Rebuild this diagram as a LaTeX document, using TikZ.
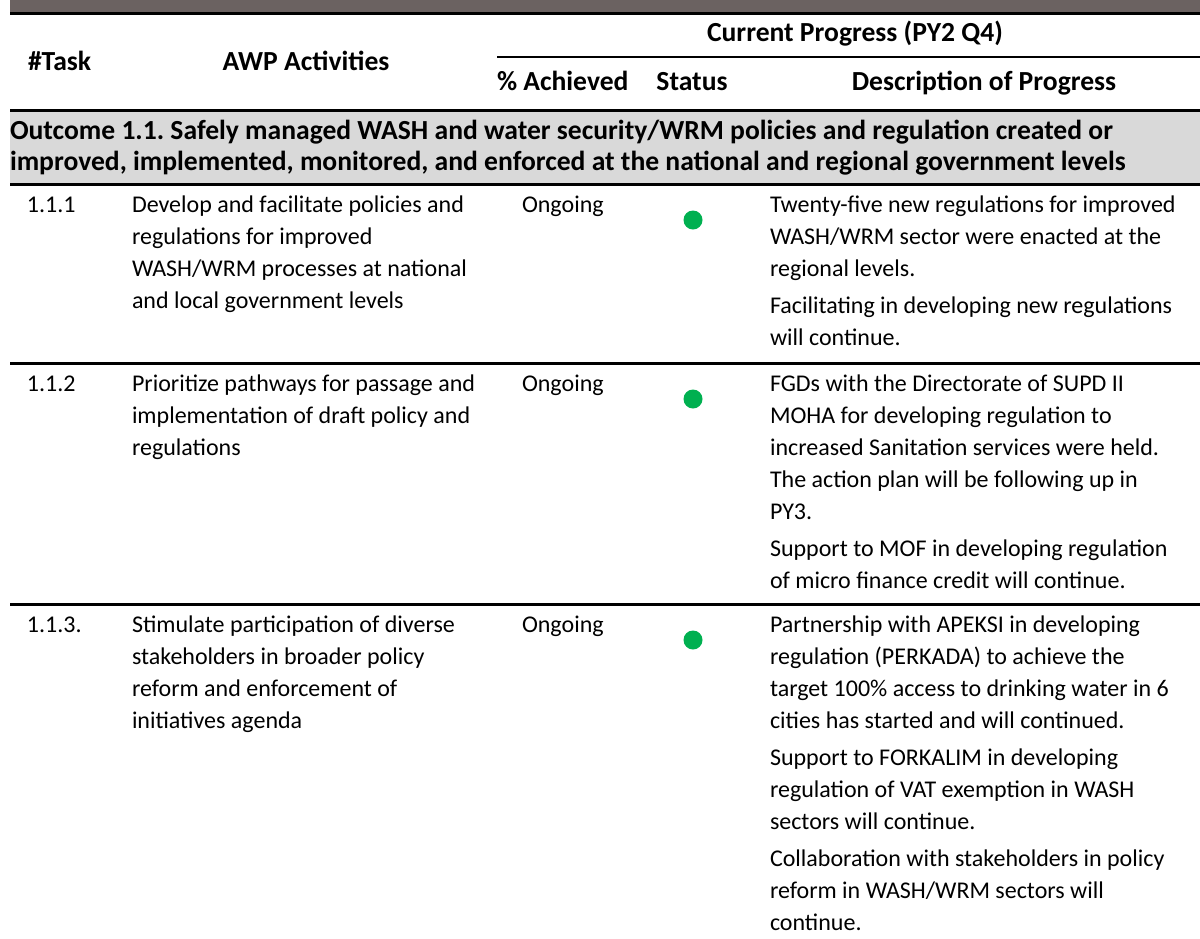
\documentclass[tikz,border=0pt]{standalone}
\usepackage{fontspec}
\setmainfont{Carlito}
\usepackage{tikz}
\frenchspacing

\definecolor{barbrown}{HTML}{6B6261}
\definecolor{outcomegray}{HTML}{D9D9D9}
\definecolor{statusgreen}{HTML}{00B050}

\newcommand{\bodysize}{\fontsize{24}{32}\selectfont}
\newcommand{\headsize}{\fontsize{27.6}{31}\selectfont\bfseries}

\tikzstyle{rule} = [line width=3pt]
\tikzstyle{thinrule} = [line width=2pt]
\tikzstyle{cell} = [anchor=north west, inner sep=0pt, outer sep=0pt, align=left, font=\bodysize]
\tikzstyle{headcell} = [anchor=base, inner sep=0pt, outer sep=0pt, font=\headsize]
\tikzstyle{statusdot} = [circle, fill=statusgreen, minimum size=19pt, inner sep=0pt]

\newcommand{\taskrow}[5]{
	\draw[rule] (10,#2) -- (1200,#2);
	\node(#1num) at (27,#2+6.5) [cell] {\strut #3};
	\node(#1act) at (132,#2+6.5) [cell] {\strut #4};
	\node(#1pct) at (522,#2+6.5) [cell] {\strut Ongoing};
	\node(#1dot) at (693,#2+36) [statusdot] {};
	\node(#1desc) at (770,#2+6.5) [cell] {\strut #5};
}

\begin{document}
\begin{tikzpicture}[x=1pt,y=-1pt]
	\useasboundingbox (0,0) rectangle (1200,938);

	% header
	\fill[barbrown] (10,0) rectangle (1200,12);
	\draw[rule] (10,13) -- (1200,13);
	\node(curprog) at (855,41) [headcell] {Current Progress (PY2 Q4)};
	\draw[thinrule] (497,57) -- (1200,57);
	\node(task) at (28,70) [headcell, anchor=base west] {\#Task};
	\node(awp) at (306,70) [headcell] {AWP Activities};
	\node(achieved) at (497,90) [headcell, anchor=base west] {\% Achieved};
	\node(status) at (692,90) [headcell] {Status};
	\node(descr) at (984,90) [headcell] {Description of Progress};

	% outcome band
	\fill[outcomegray] (10,110) rectangle (1200,184);
	\draw[rule] (10,110) -- (1200,110);
	\node(outcome) at (10,118) [headcell, anchor=north west, align=left] {\strut Outcome 1.1. Safely managed WASH and water security/WRM policies and regulation created or\\improved, implemented, monitored, and enforced at the national and regional government levels};

	% tasks
	\taskrow{one}{184}{1.1.1}{Develop and facilitate policies and\\regulations for improved\\WASH/WRM processes at national\\and local government levels}{Twenty-five new regulations for improved\\WASH/WRM sector were enacted at the\\regional levels.\\[5pt]Facilitating in developing new regulations\\will continue.};
	\taskrow{two}{363}{1.1.2}{Prioritize pathways for passage and\\implementation of draft policy and\\regulations}{FGDs with the Directorate of SUPD II\\MOHA for developing regulation to\\increased Sanitation services were held.\\The action plan will be following up in\\PY3.\\[5pt]Support to MOF in developing regulation\\of micro finance credit will continue.};
	\taskrow{three}{604}{1.1.3.}{Stimulate participation of diverse\\stakeholders in broader policy\\reform and enforcement of\\initiatives agenda}{Partnership with APEKSI in developing\\regulation (PERKADA) to achieve the\\target 100\% access to drinking water in 6\\cities has started and will continued.\\[5pt]Support to FORKALIM in developing\\regulation of VAT exemption in WASH\\sectors will continue.\\[5pt]Collaboration with stakeholders in policy\\reform in WASH/WRM sectors will\\continue.};
\end{tikzpicture}
\end{document}
